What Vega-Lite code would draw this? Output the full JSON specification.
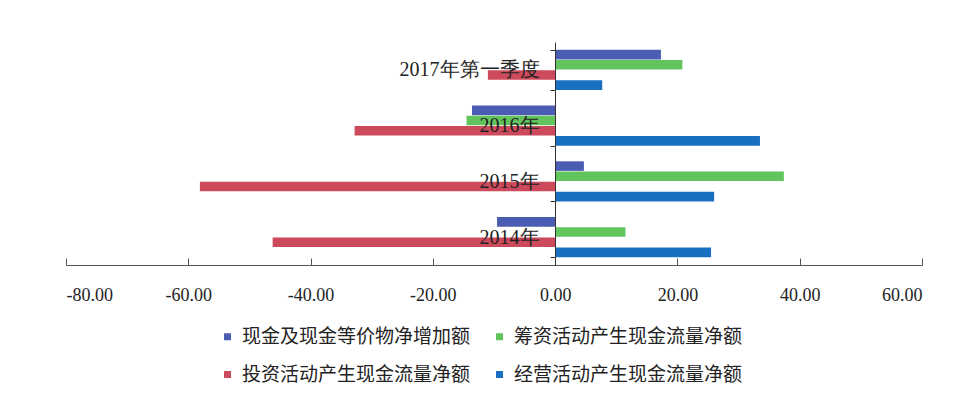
{
  "$schema": "https://vega.github.io/schema/vega-lite/v6.json",
  "autosize": {"type": "none"},
  "padding": {"left": 66, "top": 42, "right": 42, "bottom": 145},
  "width": 856,
  "height": 223,
  "background": "white",
  "data": {
    "values": [
      {"period": "2017年第一季度", "series": "现金及现金等价物净增加额", "value": 17.3},
      {"period": "2017年第一季度", "series": "筹资活动产生现金流量净额", "value": 20.8},
      {"period": "2017年第一季度", "series": "投资活动产生现金流量净额", "value": -11.0},
      {"period": "2017年第一季度", "series": "经营活动产生现金流量净额", "value": 7.7},
      {"period": "2016年", "series": "现金及现金等价物净增加额", "value": -13.6},
      {"period": "2016年", "series": "筹资活动产生现金流量净额", "value": -14.5},
      {"period": "2016年", "series": "投资活动产生现金流量净额", "value": -32.8},
      {"period": "2016年", "series": "经营活动产生现金流量净额", "value": 33.5},
      {"period": "2015年", "series": "现金及现金等价物净增加额", "value": 4.7},
      {"period": "2015年", "series": "筹资活动产生现金流量净额", "value": 37.4},
      {"period": "2015年", "series": "投资活动产生现金流量净额", "value": -58.1},
      {"period": "2015年", "series": "经营活动产生现金流量净额", "value": 26.0},
      {"period": "2014年", "series": "现金及现金等价物净增加额", "value": -9.5},
      {"period": "2014年", "series": "筹资活动产生现金流量净额", "value": 11.5},
      {"period": "2014年", "series": "投资活动产生现金流量净额", "value": -46.2},
      {"period": "2014年", "series": "经营活动产生现金流量净额", "value": 25.5}
    ]
  },
  "mark": {"type": "bar"},
  "encoding": {
    "y": {
      "field": "period",
      "type": "nominal",
      "sort": ["2017年第一季度", "2016年", "2015年", "2014年"],
      "scale": {"paddingInner": 0.28, "paddingOuter": 0.14},
      "axis": {
        "title": null,
        "offset": -489,
        "zindex": 1,
        "ticks": true,
        "tickBand": "extent",
        "tickSize": 5,
        "tickColor": "#333333",
        "domainColor": "#333333",
        "domainWidth": 1,
        "labelFont": "Liberation Serif",
        "labelFontSize": 20,
        "labelColor": "#222222",
        "labelPadding": 11
      }
    },
    "yOffset": {
      "field": "series",
      "type": "nominal",
      "sort": ["现金及现金等价物净增加额", "筹资活动产生现金流量净额", "投资活动产生现金流量净额", "经营活动产生现金流量净额"],
      "scale": {"paddingInner": 0.06}
    },
    "x": {
      "field": "value",
      "type": "quantitative",
      "scale": {"domain": [-80, 60], "nice": false, "zero": false},
      "axis": {
        "title": null,
        "values": [-80, -60, -40, -20, 0, 20, 40, 60],
        "labelExpr": "(datum.value < 0 ? '-' : '') + format(abs(datum.value), '.2f')",
        "grid": false,
        "tickSize": -7,
        "tickColor": "#555555",
        "domainColor": "#555555",
        "labelFont": "Liberation Serif",
        "labelFontSize": 18,
        "labelColor": "#222222",
        "labelPadding": 28
      }
    },
    "color": {
      "field": "series",
      "type": "nominal",
      "sort": ["现金及现金等价物净增加额", "筹资活动产生现金流量净额", "投资活动产生现金流量净额", "经营活动产生现金流量净额"],
      "scale": {
        "domain": ["现金及现金等价物净增加额", "筹资活动产生现金流量净额", "投资活动产生现金流量净额", "经营活动产生现金流量净额"],
        "range": ["#4A5DB3", "#62C45C", "#CC4A5C", "#1A70C0"]
      },
      "legend": {
        "title": null,
        "orient": "none",
        "legendX": 152,
        "legendY": 285,
        "direction": "horizontal",
        "columns": 2,
        "gridAlign": "all",
        "columnPadding": 19,
        "rowPadding": 18,
        "symbolType": "square",
        "symbolSize": 49,
        "symbolStrokeWidth": 0,
        "labelFont": "Noto Sans CJK SC",
        "labelFontSize": 19,
        "labelColor": "#222222",
        "labelOffset": 5,
        "labelLimit": 400
      }
    }
  },
  "config": {
    "view": {"stroke": null}
  }
}
